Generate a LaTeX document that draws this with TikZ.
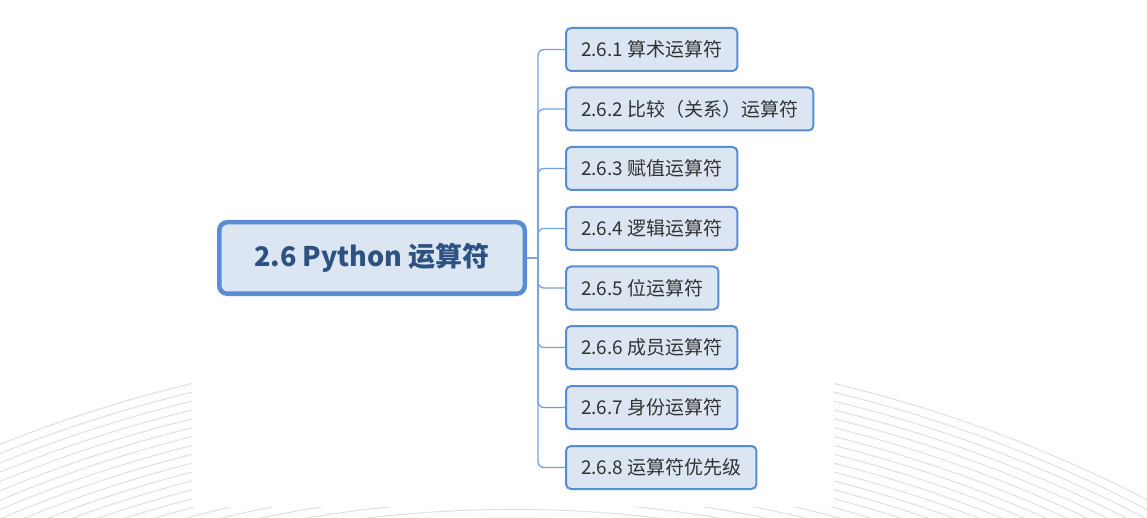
\documentclass[tikz,border=0pt]{standalone}
\usepackage{fontspec}
\setmainfont{Noto Sans CJK SC}
\usepackage{tikz}
\usetikzlibrary{positioning, calc}

\definecolor{boxline}{RGB}{88,140,212}
\definecolor{boxfill}{RGB}{220,230,242}
\definecolor{topictext}{RGB}{45,82,130}
\definecolor{subtext}{RGB}{50,50,50}
\definecolor{linkline}{RGB}{120,163,218}
\definecolor{arcgray}{RGB}{224,224,224}

\begin{document}
\begin{tikzpicture}[x=1pt, y=-1pt,
    topic/.style={draw=boxline, fill=boxfill, line width=4.5pt, rounded corners=8pt,
        minimum width=305.5pt, minimum height=71.5pt, text=topictext,
        font=\fontsize{27}{30}\selectfont\bfseries},
    sub/.style={draw=boxline, fill=boxfill, line width=2pt, rounded corners=5pt,
        minimum height=43pt, inner xsep=15pt, text=subtext, anchor=west,
        font=\fontsize{19}{22}\selectfont},
    link/.style={draw=linkline, line width=1.3pt}]
    \useasboundingbox (0,0) rectangle (1147,518);

    % Background arcs
    \begin{scope}
        \clip (0,0) rectangle (1147,518);
        \foreach \r in {1209,1217.6,...,1382}
            \draw[arcgray, line width=1pt] (513,1727) circle[radius=\r pt];
    \end{scope}
    \fill[white] (192,0) rectangle (834,507);

    % Central topic
    \node[topic] (main) at (372,258) {2.6 Python 运算符};

    % Subtopics
    \node[sub] (s1) at (565,49.5) {2.6.1 算术运算符};
    \node[sub] (s2) at (565,109) {2.6.2 比较（关系）运算符};
    \node[sub] (s3) at (565,168.5) {2.6.3 赋值运算符};
    \node[sub] (s4) at (565,228.5) {2.6.4 逻辑运算符};
    \node[sub] (s5) at (565,288) {2.6.5 位运算符};
    \node[sub] (s6) at (565,347.5) {2.6.6 成员运算符};
    \node[sub] (s7) at (565,407.5) {2.6.7 身份运算符};
    \node[sub] (s8) at (565,467.5) {2.6.8 运算符优先级};

    % Connectors
    \coordinate (trunk) at (538,258);
    \draw[link] (main.east) -- (trunk);
    \foreach \n in {1,...,8}
        \draw[link, rounded corners=6pt] (trunk) |- (s\n.west);
\end{tikzpicture}
\end{document}
